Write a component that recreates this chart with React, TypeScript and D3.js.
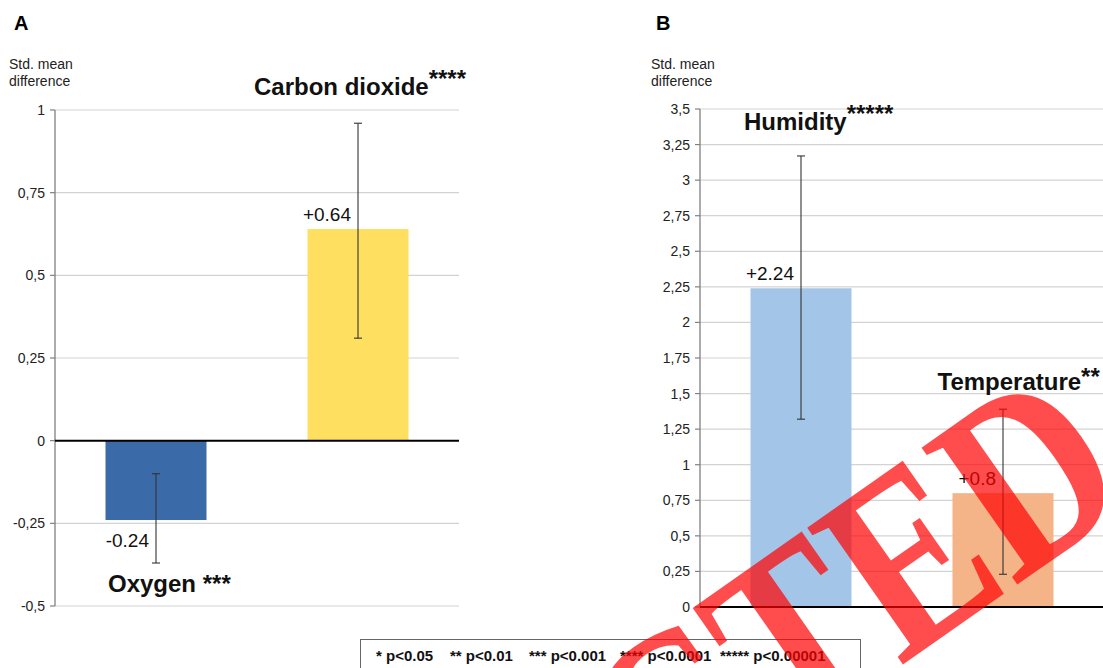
import React from "react";
import * as d3 from "d3";

// ---------- data ----------
const catsA = ["Oxygen", "Carbon dioxide"];
const valsA = [-0.24, 0.64];
const errLowA = [-0.37, 0.31];
const errHighA = [-0.1, 0.96];
const sigA = ["***", "****"];
const colorsA = ["#3a6aa8", "#ffdf5f"];
const ticksA = [-0.5, -0.25, 0, 0.25, 0.5, 0.75, 1];

const catsB = ["Humidity", "Temperature"];
const valsB = [2.24, 0.8];
const errLowB = [1.32, 0.23];
const errHighB = [3.17, 1.39];
const sigB = ["*****", "**"];
const colorsB = ["#a3c5e7", "#f5b488"];
const ticksB = [0, 0.25, 0.5, 0.75, 1, 1.25, 1.5, 1.75, 2, 2.25, 2.5, 2.75, 3, 3.25, 3.5];

const legendItems = ["* p<0.05", "** p<0.01", "*** p<0.001", "**** p<0.0001", "***** p<0.00001"];
const stampText = "RETRACTED";

// ---------- layout (positions kept separate from data) ----------
const FONT = "'Liberation Sans', Arial, Helvetica, sans-serif";
const panelALayout = {
  letter: "A", letterX: 14, titleX: 9,
  x0: 55, x1: 459, yTop: 110, yBot: 606, domain: [-0.5, 1] as [number, number],
  names: [
    { dx: 2.5, yVal: -0.457, raise: 0, sep: " " },
    { dx: -53.5, yVal: 1.045, raise: 8, sep: "" },
  ],
};
const panelBLayout = {
  letter: "B", letterX: 656, titleX: 651,
  x0: 700, x1: 1104, yTop: 109, yBot: 607, domain: [0, 3.5] as [number, number],
  names: [
    { dx: -6.5, yVal: 3.352, raise: 8.5, sep: "" },
    { dx: -15, yVal: 1.525, raise: 5.5, sep: "" },
  ],
};
const legendX = [376, 450, 529, 620, 720];

const fmtTick = (v: number) => String(v).replace(".", ",");
const fmtVal = (v: number) => (v > 0 ? "+" + v : String(v));

function Panel({ cats, vals, lows, highs, sigs, colors, ticks, L }: any) {
  const x = d3.scaleBand<string>().domain(cats).range([L.x0, L.x1]).paddingInner(0.5).paddingOuter(0.25);
  const y = d3.scaleLinear().domain(L.domain).range([L.yBot, L.yTop]);
  const bw = x.bandwidth();
  return (
    <g fontFamily={FONT}>
      <text x={L.letterX} y={30} fontSize={20} fontWeight="bold" fill="#000">{L.letter}</text>
      <text x={L.titleX} y={69} fontSize={14} fill="#222">Std. mean</text>
      <text x={L.titleX} y={86} fontSize={14} fill="#222">difference</text>
      {ticks.map((t: number) => (
        <g key={t}>
          {t !== 0 && <line x1={L.x0} x2={L.x1} y1={y(t)} y2={y(t)} stroke="#d3d3d3" strokeWidth={1.2} />}
          <line x1={L.x0 - 5} x2={L.x0} y1={y(t)} y2={y(t)} stroke="#808080" strokeWidth={1.2} />
          <text x={L.x0 - 10} y={y(t) + 5} fontSize={14} textAnchor="end" fill="#222">{fmtTick(t)}</text>
        </g>
      ))}
      <line x1={L.x0} x2={L.x0} y1={L.yTop} y2={L.yBot} stroke="#808080" strokeWidth={1.3} />
      {cats.map((c: string, i: number) => {
        const v = vals[i];
        const bx = x(c) as number;
        const cx = bx + bw / 2;
        const top = y(Math.max(0, v));
        const bot = y(Math.min(0, v));
        const N = L.names[i];
        return (
          <g key={c}>
            <rect x={bx} y={top} width={bw} height={bot - top} fill={colors[i]} />
            <line x1={cx} x2={cx} y1={y(highs[i])} y2={y(lows[i])} stroke="#333" strokeWidth={1.1} />
            <line x1={cx - 4} x2={cx + 4} y1={y(highs[i])} y2={y(highs[i])} stroke="#333" strokeWidth={1.1} />
            <line x1={cx - 4} x2={cx + 4} y1={y(lows[i])} y2={y(lows[i])} stroke="#333" strokeWidth={1.1} />
            <text x={cx - 7} y={v > 0 ? top - 8 : bot + 27} fontSize={19} textAnchor="end" fill="#111">{fmtVal(v)}</text>
            <text x={bx + N.dx} y={y(N.yVal)} fontSize={24} fontWeight="bold" fill="#111">
              <tspan>{c}{N.sep}</tspan>
              <tspan dy={-N.raise}>{sigs[i]}</tspan>
            </text>
          </g>
        );
      })}
      <line x1={L.x0} x2={L.x1} y1={y(0)} y2={y(0)} stroke="#000" strokeWidth={2} />
    </g>
  );
}

export default function App() {
  return (
    <svg width={1103} height={668} style={{ position: "absolute", left: 0, top: 0, background: "#fff" }}>
      <rect x={0} y={0} width={1103} height={668} fill="#fff" />
      <Panel cats={catsA} vals={valsA} lows={errLowA} highs={errHighA} sigs={sigA} colors={colorsA} ticks={ticksA} L={panelALayout} />
      <Panel cats={catsB} vals={valsB} lows={errLowB} highs={errHighB} sigs={sigB} colors={colorsB} ticks={ticksB} L={panelBLayout} />
      <rect x={360.5} y={639.5} width={500} height={40} fill="#fff" stroke="#666" strokeWidth={1} />
      {legendItems.map((t, i) => (
        <text key={t} x={legendX[i]} y={661} fontFamily={FONT} fontSize={15} fontWeight="bold" fill="#111">{t}</text>
      ))}
      <text transform="translate(1138,500) rotate(-35) scale(0.82,1)" textAnchor="end" fontFamily="'Liberation Serif', 'DejaVu Serif', serif" fontWeight="bold" fontSize={255} fill="#ff0000" fillOpacity={0.7}>{stampText}</text>
    </svg>
  );
}
